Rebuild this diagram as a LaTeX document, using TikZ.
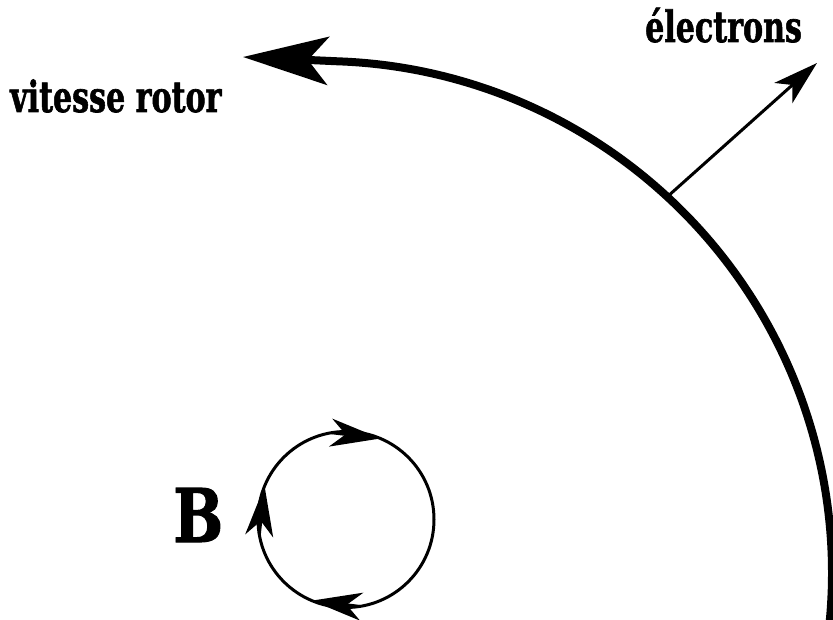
\documentclass[tikz,border=0pt]{standalone}
\usepackage{fontspec}
\setmainfont{DejaVu Serif}
\newfontfamily\heavyfont{DejaVu Serif}[BoldFont={* Bold}, FakeBold=1.6]
\usetikzlibrary{arrows.meta}
\tikzset{
  lbl/.style={inner sep=0pt},
  bigarrow/.style={line width=8pt, -{Stealth[length=85pt,width=48pt,inset=20pt]}},
  elarrow/.style={line width=3pt, -{Stealth[length=45pt,width=27pt,inset=12pt]}},
  looptip/.style={line width=3pt, -{Stealth[length=50pt,width=28pt,inset=15pt]}},
}
\begin{document}
\begin{tikzpicture}[x=1pt,y=-1pt]
\useasboundingbox (0,0) rectangle (833,620);
\clip (0,0) rectangle (833,620);
% rotor arc
\coordinate (rc) at (320,573);
\coordinate (rtip) at (243,57);
\draw[bigarrow] ([shift={(8:512)}]rc) arc[start angle=8, end angle=-88, radius=512] -- (rtip);
% electrons arrow
\coordinate (ebase) at (667,197);
\coordinate (etip) at (817,63);
\draw[elarrow] (ebase) -- (etip);
% B loop
\coordinate (bc) at (346,519.5);
\draw[line width=3pt] (bc) circle[radius=88];
\draw[looptip] ([shift={(-99.5:88)}]bc) -- ([shift={(-67:88)}]bc);
\draw[looptip] ([shift={(-189.9:88)}]bc) -- ([shift={(-157.7:88)}]bc);
\draw[looptip] ([shift={(81:88)}]bc) -- ([shift={(112.8:88)}]bc);
% labels
\node[lbl, anchor=base west, font=\heavyfont\bfseries\fontsize{43}{45}\selectfont] (vr) at (10,112) {\scalebox{0.7}[1]{vitesse rotor}};
\node[lbl, anchor=base west, font=\heavyfont\bfseries\fontsize{43}{45}\selectfont] (el) at (645,42) {\scalebox{0.7}[1]{électrons}};
\node[lbl, anchor=base west, font=\heavyfont\bfseries\fontsize{74}{76}\selectfont] (B) at (173,542) {\scalebox{0.8}[1]{B}};
\end{tikzpicture}
\end{document}
